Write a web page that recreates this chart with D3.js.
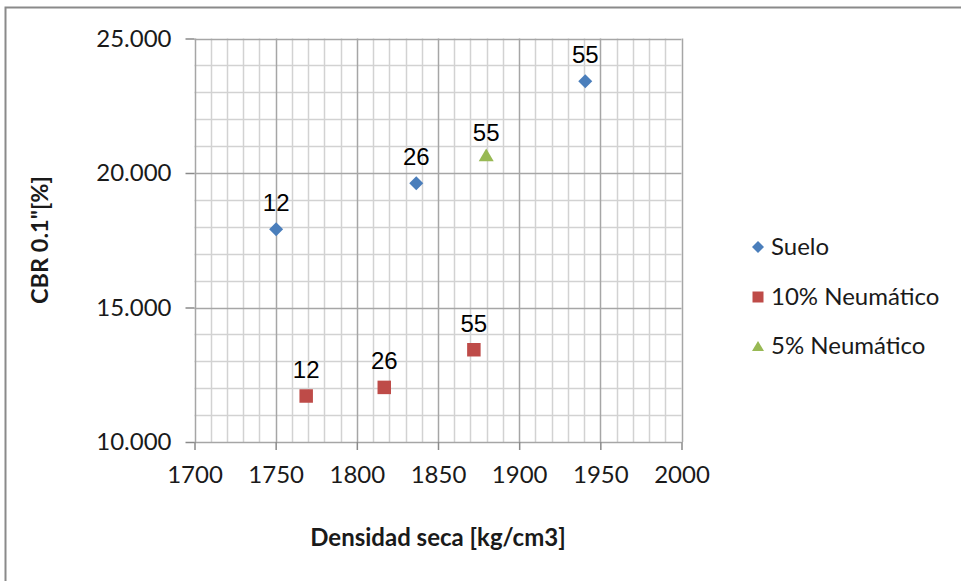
<!DOCTYPE html>
<html>
<head>
<meta charset="utf-8">
<script src="https://cdn.jsdelivr.net/npm/d3@7"></script>
<style>
  html, body { margin: 0; padding: 0; background: #fff; }
  svg { display: block; }
</style>
</head>
<body>
<svg id="chart" width="961" height="581"></svg>
<script>
// ---- data ----
const seriesNames = ["Suelo", "10% Neumático", "5% Neumático"];
const sueloX = [1750.3, 1836.6, 1940.7];
const sueloY = [17.91, 19.62, 23.41];
const sueloLabels = ["12", "26", "55"];
const neum10X = [1768.8, 1816.9, 1872.1];
const neum10Y = [11.71, 12.03, 13.43];
const neum10Labels = ["12", "26", "55"];
const neum5X = [1879.7];
const neum5Y = [20.67];
const neum5Labels = ["55"];
const xTicks = [1700, 1750, 1800, 1850, 1900, 1950, 2000];
const yTicks = [10, 15, 20, 25];
const xTitle = "Densidad seca [kg/cm3]";
const yTitle = "CBR 0.1\"[%]";

// ---- build ----
const colors = ["#4a7ebb", "#be4b48", "#98b954"];
const series = [
  { name: seriesNames[0], xs: sueloX, ys: sueloY, labels: sueloLabels, color: colors[0], shape: "diamond", lab: 18 },
  { name: seriesNames[1], xs: neum10X, ys: neum10Y, labels: neum10Labels, color: colors[1], shape: "square", lab: 18 },
  { name: seriesNames[2], xs: neum5X, ys: neum5Y, labels: neum5Labels, color: colors[2], shape: "triangle", lab: 14 }
];

const svg = d3.select("#chart");
const font = "Lato, 'Open Sans', sans-serif";

// outer chart border
svg.append("rect").attr("x", 5.5).attr("y", 7.5).attr("width", 1000).attr("height", 1000)
  .attr("fill", "#fff").attr("stroke", "#8a8a8a").attr("stroke-width", 2);

const x = d3.scaleLinear().domain([1700, 2000]).range([194.5, 681.5]);
const y = d3.scaleLinear().domain([10, 25]).range([442, 38.5]);

const g = svg.append("g");

// minor gridlines
const xMinor = d3.range(1700, 2001, 10);
const yMinor = d3.range(10, 25.001, 1);
g.append("g").selectAll("line").data(xMinor.filter(v => v % 50 !== 0)).join("line")
  .attr("x1", d => Math.round(x(d)) + 0.5).attr("x2", d => Math.round(x(d)) + 0.5)
  .attr("y1", y(25)).attr("y2", y(10))
  .attr("stroke", "#d2d2d2").attr("stroke-width", 1.5);
g.append("g").selectAll("line").data(yMinor.filter(v => Math.abs(v % 5) > 1e-9)).join("line")
  .attr("y1", d => Math.round(y(d)) + 0.5).attr("y2", d => Math.round(y(d)) + 0.5)
  .attr("x1", x(1700)).attr("x2", x(2000))
  .attr("stroke", "#d2d2d2").attr("stroke-width", 1.5);
// major gridlines
g.append("g").selectAll("line").data(xTicks).join("line")
  .attr("x1", d => Math.round(x(d)) + 0.5).attr("x2", d => Math.round(x(d)) + 0.5)
  .attr("y1", y(25)).attr("y2", y(10))
  .attr("stroke", "#a6a6a6").attr("stroke-width", 1.5);
g.append("g").selectAll("line").data(yTicks).join("line")
  .attr("y1", d => Math.round(y(d)) + 0.5).attr("y2", d => Math.round(y(d)) + 0.5)
  .attr("x1", x(1700)).attr("x2", x(2000))
  .attr("stroke", "#a6a6a6").attr("stroke-width", 1.5);

// axes
const xAxis = d3.axisBottom(x).tickValues(xTicks).tickSize(8).tickPadding(16).tickFormat(d3.format("d"));
const yAxis = d3.axisLeft(y).tickValues(yTicks).tickSize(9).tickPadding(14).tickFormat(d3.format(".3f"));
const gx = svg.append("g").attr("transform", `translate(0,${y(10)})`).call(xAxis);
const gy = svg.append("g").attr("transform", `translate(${x(1700)},0)`).call(yAxis);
[gx, gy].forEach(a => {
  a.selectAll(".tick line").attr("stroke", "#8a8a8a").attr("stroke-width", 1.5);
  a.selectAll(".tick text").attr("font-family", font).attr("font-size", 24).attr("fill", "#1a1a1a");
});
gy.select(".domain").remove();
gx.select(".domain").remove();

// symbols
function symbolPath(shape, size) {
  const h = size / 2;
  if (shape === "diamond") return `M0,${-h}L${h},0L0,${h}L${-h},0Z`;
  if (shape === "square") return `M${-h},${-h}H${h}V${h}H${-h}Z`;
  return `M0,${-h * 0.85}L${h},${h * 0.85}L${-h},${h * 0.85}Z`;
}
const sizes = { diamond: 14, square: 13.5, triangle: 15 };

series.forEach(s => {
  const pts = s.xs.map((v, i) => ({ x: v, y: s.ys[i], label: s.labels[i] }));
  const sg = svg.append("g");
  sg.selectAll("path").data(pts).join("path")
    .attr("transform", d => `translate(${x(d.x)},${y(d.y)})`)
    .attr("d", symbolPath(s.shape, sizes[s.shape]))
    .attr("fill", s.color);
  sg.selectAll("text").data(pts).join("text")
    .attr("x", d => x(d.x)).attr("y", d => y(d.y) - s.lab)
    .attr("text-anchor", "middle")
    .attr("font-family", "'Liberation Sans', Arial, sans-serif")
    .attr("font-size", 24).attr("fill", "#000")
    .text(d => d.label);
});

// legend
const legend = svg.append("g");
const legendRows = [247, 297, 346];
series.forEach((s, i) => {
  const lsize = { diamond: 12, square: 11, triangle: 12 };
  legend.append("path")
    .attr("transform", `translate(758,${legendRows[i]})`)
    .attr("d", symbolPath(s.shape, lsize[s.shape]))
    .attr("fill", s.color);
  legend.append("text").attr("x", 771).attr("y", legendRows[i] + 8)
    .attr("font-family", font).attr("font-size", 24).attr("fill", "#1a1a1a")
    .text(s.name);
});

// axis titles
svg.append("text").attr("x", 438).attr("y", 546).attr("text-anchor", "middle")
  .attr("font-family", font).attr("font-weight", "bold").attr("font-size", 24).attr("fill", "#1a1a1a")
  .text(xTitle);
svg.append("text").attr("transform", "translate(48,240) rotate(-90)").attr("text-anchor", "middle")
  .attr("font-family", font).attr("font-weight", "bold").attr("font-size", 23.5).attr("fill", "#1a1a1a")
  .text(yTitle);
</script>
</body>
</html>
